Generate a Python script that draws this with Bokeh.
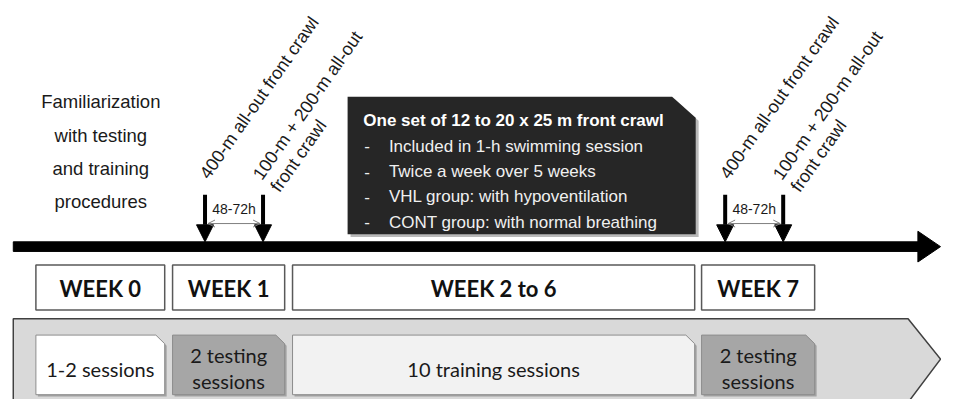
import math
from bokeh.plotting import figure
from bokeh.models import Range1d, Arrow, NormalHead, OpenHead
from bokeh.core.properties import value
from bokeh.embed import file_html
from bokeh.resources import INLINE

# ---------------- data ----------------
week_labels = ["WEEK 0", "WEEK 1", "WEEK 2 to 6", "WEEK 7"]
week_left = [36, 175, 297, 713]
week_right = [167, 289, 706, 828]
session_lines = [["1-2 sessions"], ["2 testing", "sessions"], ["10 training sessions"], ["2 testing", "sessions"]]
session_fill = ["#ffffff", "#a6a6a6", "#f2f2f2", "#a6a6a6"]
familiar_lines = ["Familiarization", "with testing", "and training", "procedures"]
test_a = "400-m all-out front crawl"
test_b = ["100-m + 200-m all-out", "front crawl"]
gap_label = "48-72h"
test_x = [(208, 267), (737, 796)]
training_title = "One set of 12 to 20 x 25 m front crawl"
training_items = ["Included in 1-h swimming session",
                  "Twice a week over 5 weeks",
                  "VHL group: with hypoventilation",
                  "CONT group: with normal breathing"]

SANS = value("Liberation Sans")
LATO = value("Lato")

W, H = 941, 399
p = figure(width=W, height=H, x_range=Range1d(0, 957), y_range=Range1d(415, 0),
           output_backend="svg", toolbar_location=None, min_border=0)
p.axis.visible = False
p.grid.visible = False
p.outline_line_color = None
p.background_fill_color = "white"
p.border_fill_color = "white"


def bl(baseline, size):
    """anchor y so the text's baseline sits at `baseline`"""
    return baseline - 0.35 * size


# ---- big grey chevron ----
p.patch([13, 923, 956, 923, 13], [331, 331, 373, 418, 418],
        fill_color="#d9d9d9", line_color="#404040", line_width=1.5)

# ---- session boxes ----
box_top, box_bot, snip = 348, 410, 9
for l, r, lines, fc in zip(week_left, week_right, session_lines, session_fill):
    xs = [l, r - snip, r, r, l]
    ys = [box_top, box_top, box_top + snip, box_bot, box_bot]
    p.patch([x + 2 for x in xs], [y + 2 for y in ys], fill_color="#7f7f7f", fill_alpha=0.6, line_color=None)
    p.patch(xs, ys, fill_color=fc, line_color="#8c8c8c", line_width=1)
    cx = (l + r) / 2
    ys_txt = [390] if len(lines) == 1 else [376, 403]
    p.text(x=[cx] * len(lines), y=[bl(v, 20) for v in ys_txt], text=lines, text_font=LATO,
           text_font_size="20px", text_align="center", text_baseline="alphabetic", text_color="#1a1a1a")

# ---- week boxes ----
p.quad(left=week_left, right=week_right, top=[275] * 4, bottom=[322] * 4,
       fill_color="white", line_color="#595959", line_width=1.5)
p.text(x=[(l + r) / 2 for l, r in zip(week_left, week_right)], y=[bl(307, 22)] * 4, text=week_labels,
       text_font=LATO, text_font_style="bold", text_font_size="22px",
       text_align="center", text_baseline="alphabetic", text_color="#111111")

# ---- timeline ----
p.quad(left=[13], right=[935], top=[251], bottom=[261], color="black")
p.patch([933, 956, 933], [240, 256, 272], color="black")

# ---- training box ----
bx = [353, 683, 707, 707, 353]
by = [100, 100, 122, 243, 243]
p.patch([x + 3 for x in bx], [y + 3 for y in by], fill_color="#8a8a8a", fill_alpha=0.6, line_color=None)
p.patch(bx, by, fill_color="#262626", line_color=None)
p.text(x=[369], y=[bl(131, 17)], text=[training_title], text_font=SANS, text_font_style="bold",
       text_font_size="17px", text_color="white", text_baseline="alphabetic")
item_y = [bl(v, 17) for v in [157.5, 184, 210, 236.5]]
p.text(x=[370] * 4, y=item_y, text=["-"] * 4, text_font=SANS, text_font_size="17px",
       text_color="#f0f0f0", text_baseline="alphabetic")
p.text(x=[395] * 4, y=item_y, text=training_items, text_font=SANS, text_font_size="17px",
       text_color="#f0f0f0", text_baseline="alphabetic")

# ---- familiarization text ----
p.text(x=[102] * 4, y=[bl(v, 18.5) for v in [112, 146.5, 181, 215.5]], text=familiar_lines, text_font=SANS,
       text_font_size="18.5px", text_align="center", text_baseline="alphabetic", text_color="#1a1a1a")

# ---- tests: arrows and rotated labels ----
ang = math.radians(55)
k = 0.35 * 18
sx, sy = k * math.sin(ang), k * math.cos(ang)
lh = 22
for xa, xb in test_x:
    for xx in (xa, xb):
        p.add_layout(Arrow(end=NormalHead(size=17, fill_color="black", line_color="black", line_width=1),
                           x_start=xx, y_start=202, x_end=xx, y_end=251,
                           line_width=4, line_color="black"))
    p.add_layout(Arrow(start=OpenHead(size=7, line_color="#7f7f7f", line_width=1),
                       end=OpenHead(size=7, line_color="#7f7f7f", line_width=1),
                       x_start=xa + 3, y_start=232, x_end=xb - 3, y_end=232,
                       line_color="#7f7f7f", line_width=1))
    p.text(x=[(xa + xb) / 2], y=[bl(222, 14)], text=[gap_label], text_font=SANS, text_font_size="14px",
           text_align="center", text_baseline="alphabetic", text_color="#1a1a1a")
    ax0, ay0 = xa + 4, 187
    p.text(x=[ax0 - sx], y=[ay0 - sy], text=[test_a], text_font=SANS, text_font_size="18px",
           angle=ang, text_baseline="alphabetic", text_color="#1a1a1a")
    bx0, by0 = xb - 1, 188
    b_x = [bx0 - sx, bx0 + lh * math.sin(ang) - sx]
    b_y = [by0 - sy, by0 + lh * math.cos(ang) - sy]
    p.text(x=b_x, y=b_y, text=test_b, text_font=SANS, text_font_size="18px",
           angle=ang, text_baseline="alphabetic", text_color="#1a1a1a")

open("out.html", "w").write(file_html(p, INLINE))
